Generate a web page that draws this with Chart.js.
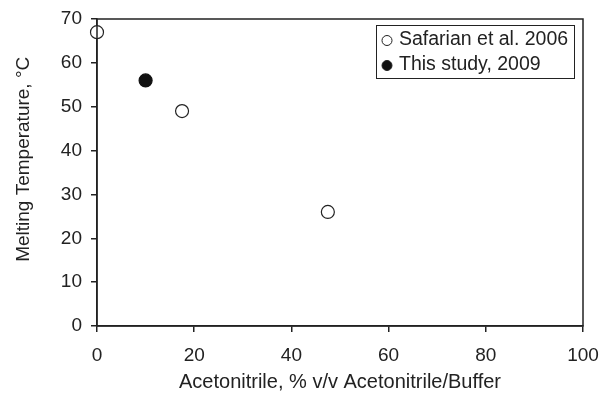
<!DOCTYPE html>
<html><head><meta charset="utf-8">
<script src="https://cdn.jsdelivr.net/npm/chart.js@4/dist/chart.umd.min.js"></script>
<style>html,body{margin:0;padding:0;background:#fff}#wrap{width:600px;height:393px;position:relative}</style>
</head><body><div id="wrap"><canvas id="c" width="600" height="393"></canvas></div>
<script>
const seriesLabels = ["Safarian et al. 2006", "This study, 2009"];
const safarianX = [0, 17.5, 47.5];
const safarianY = [67, 49, 26];
const studyX = [10];
const studyY = [56];
const xTitle = "Acetonitrile, % v/v Acetonitrile/Buffer";
const yTitle = "     Melting Temperature, \u00B0C";

const INK = '#222';
const FONT = "'Liberation Sans', Arial, sans-serif";

const toPts = (xs, ys) => xs.map((x, i) => ({x, y: ys[i]}));

const frameAndLegend = {
  id: 'frameAndLegend',
  afterDatasetsDraw(chart) {
    const {ctx, chartArea: a} = chart;
    ctx.save();
    ctx.strokeStyle = INK;
    ctx.lineWidth = 1.5;
    ctx.strokeRect(a.left, a.top, a.right - a.left, a.bottom - a.top);
    // legend box
    const bx = 376, by = 25, bw = 198, bh = 53;
    ctx.fillStyle = '#fff';
    ctx.fillRect(bx, by, bw, bh);
    ctx.lineWidth = 1;
    ctx.strokeRect(bx + 0.5, by + 0.5, bw, bh);
    ctx.font = '19.5px ' + FONT;
    ctx.textBaseline = 'middle';
    const rows = [40, 65];
    chart.data.datasets.forEach((ds, i) => {
      ctx.beginPath();
      ctx.arc(387, rows[i] + 0.5, 5, 0, Math.PI * 2);
      ctx.fillStyle = ds.backgroundColor;
      ctx.fill();
      ctx.strokeStyle = INK;
      ctx.lineWidth = 1;
      ctx.stroke();
      ctx.fillStyle = INK;
      ctx.fillText(ds.label, 399, rows[i]);
    });
    ctx.restore();
  }
};

new Chart(document.getElementById('c'), {
  type: 'scatter',
  data: {
    datasets: [
      {label: seriesLabels[0], data: toPts(safarianX, safarianY), backgroundColor: '#fff', borderColor: INK, borderWidth: 1.2, pointRadius: 6.5, clip: false},
      {label: seriesLabels[1], data: toPts(studyX, studyY), backgroundColor: '#111', borderColor: '#111', borderWidth: 1.2, pointRadius: 6.5, clip: false}
    ]
  },
  options: {
    responsive: false,
    animation: false,
    events: [],
    layout: {padding: {left: 0, right: 17, top: 19, bottom: 0}},
    plugins: {legend: {display: false}, tooltip: {enabled: false}},
    scales: {
      x: {
        type: 'linear', min: 0, max: 100,
        afterFit(s) { s.height = 67; s.paddingLeft = 0; s.paddingRight = 0; },
        ticks: {stepSize: 20, color: INK, font: {family: FONT, size: 19}, padding: 12, maxRotation: 0},
        grid: {display: true, drawOnChartArea: false, drawTicks: true, tickLength: 6, color: INK, lineWidth: 1.5},
        border: {display: true, color: INK, width: 1.5},
        title: {display: true, text: xTitle, color: INK, font: {family: FONT, size: 20, lineHeight: 1}, padding: {top: 0, bottom: 1}}
      },
      y: {
        type: 'linear', min: 0, max: 70,
        afterFit(s) { s.width = 97; s.paddingTop = 0; s.paddingBottom = 0; },
        ticks: {stepSize: 10, color: INK, font: {family: FONT, size: 19}, padding: 9},
        grid: {display: true, drawOnChartArea: false, drawTicks: true, tickLength: 6, color: INK, lineWidth: 1.5},
        border: {display: true, color: INK, width: 1.5},
        title: {display: true, text: yTitle, color: INK, font: {family: FONT, size: 19, lineHeight: 1}, padding: {top: 14, bottom: 0}}
      }
    }
  },
  plugins: [frameAndLegend]
});
</script></body></html>
